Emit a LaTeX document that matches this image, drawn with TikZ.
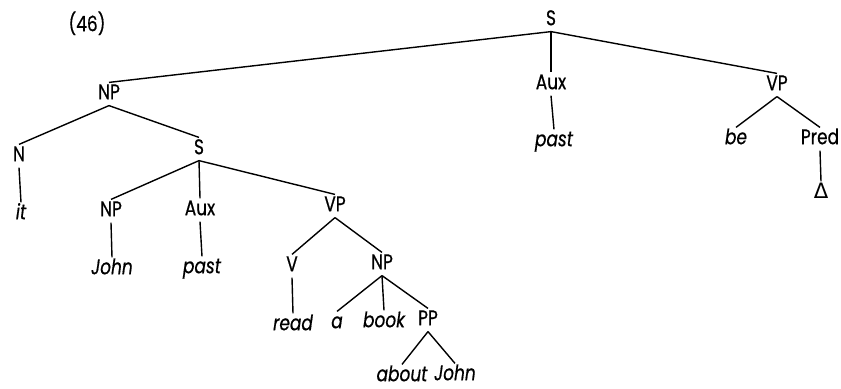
\documentclass[tikz,border=0pt]{standalone}
\usepackage{fontspec}
\setmainfont{Poppins}[FakeStretch=0.8,FakeBold=0.6]
\newfontfamily\dv{DejaVu Sans}
\begin{document}
\begin{tikzpicture}[x=0.5pt,y=-0.5pt,
  lab/.style={inner sep=1pt,text height=7.2pt,text depth=2pt,font=\fontsize{10.6}{12}\selectfont},
  wd/.style={lab,font=\fontsize{10.6}{12}\selectfont\itshape},
  edge/.style={line width=0.7pt}]
\useasboundingbox (0,0) rectangle (841,388);
\node[lab] (num) at (87,26) {(46)};
% top level
\node[lab] (S0) at (551,20) {S};
\node[lab] (NP1) at (109,94) {NP};
\node[lab] (Aux0) at (551,84) {Aux};
\node[wd] (past0) at (554,141) {past};
\node[lab] (VP0) at (777,85) {VP};
\node[wd] (be) at (736,139) {be};
\node[lab] (Pred) at (820,139) {Pred};
\node[lab] (Delta) at (821,193) {\dv Δ};
% NP subtree
\node[lab] (N) at (19,156) {N};
\node[wd] (it) at (21,214) {it};
\node[lab] (S1) at (199,149) {S};
\node[lab] (NP2) at (111,211) {NP};
\node[wd] (John1) at (112,269) {John};
\node[lab] (Aux1) at (200,210) {Aux};
\node[wd] (past1) at (202,268) {past};
\node[lab] (VP1) at (335,206) {VP};
\node[lab] (V) at (292,266) {V};
\node[wd] (read) at (293,325) {read};
\node[lab] (NP3) at (382,264) {NP};
\node[wd] (a) at (337,323) {a};
\node[wd] (book) at (384,322) {book};
\node[lab] (PP) at (428,320) {PP};
\node[wd] (about) at (402,376) {about};
\node[wd] (John2) at (455,375) {John};
% edges
\draw[edge] (S0.south) -- (NP1.north);
\draw[edge] (S0.south) -- (Aux0.north);
\draw[edge] (S0.south) -- (VP0.north);
\draw[edge] (Aux0.south) -- (past0.north);
\draw[edge] (VP0.south) -- (be.north);
\draw[edge] (VP0.south) -- (Pred.north);
\draw[edge] (Pred.south) -- (Delta.north);
\draw[edge] (NP1.south) -- (N.north);
\draw[edge] (NP1.south) -- (S1.north);
\draw[edge] (N.south) -- (it.north);
\draw[edge] (S1.south) -- (NP2.north);
\draw[edge] (S1.south) -- (Aux1.north);
\draw[edge] (S1.south) -- (VP1.north);
\draw[edge] (NP2.south) -- (John1.north);
\draw[edge] (Aux1.south) -- (past1.north);
\draw[edge] (VP1.south) -- (V.north);
\draw[edge] (VP1.south) -- (NP3.north);
\draw[edge] (V.south) -- (read.north);
\draw[edge] (NP3.south) -- (a.north);
\draw[edge] (NP3.south) -- (book.north);
\draw[edge] (NP3.south) -- (PP.north);
\draw[edge] (PP.south) -- (about.north);
\draw[edge] (PP.south) -- (John2.north);
\end{tikzpicture}
\end{document}
